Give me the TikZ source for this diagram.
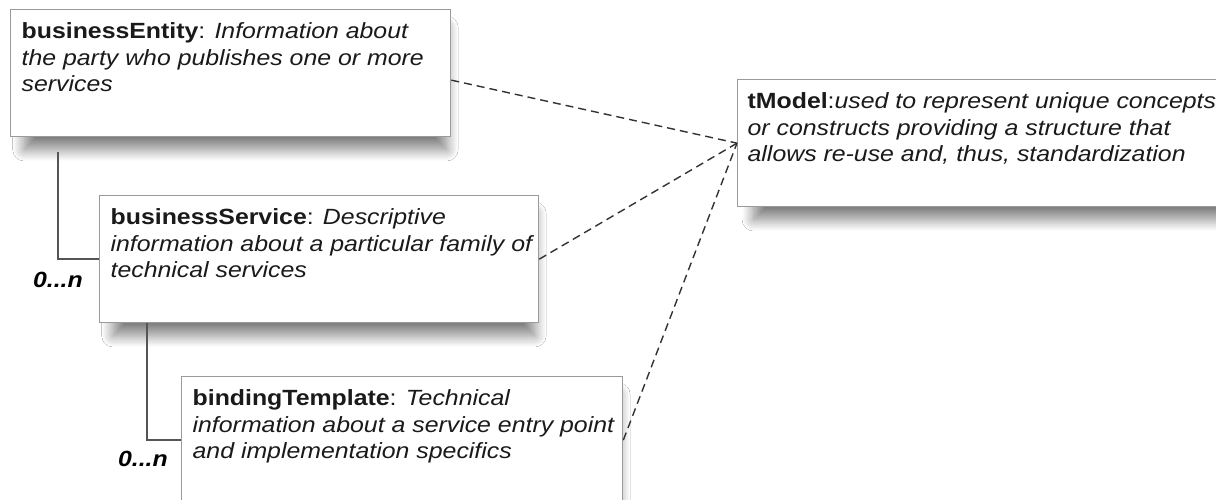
\documentclass[tikz,border=0pt]{standalone}
\usepackage{fontspec}
\setmainfont[FakeStretch=1.13]{Liberation Sans}
\usetikzlibrary{shadows.blur}
\definecolor{boxline}{HTML}{9A9A9A}
\definecolor{conncol}{HTML}{555555}
\definecolor{dashcol}{HTML}{333333}
\definecolor{txtcol}{HTML}{1A1A1A}
\newcommand{\boxtext}[4]{\parbox[t][127pt][t]{#1}{\fontsize{22}{26.5}\selectfont\color{txtcol}\rule{0pt}{29pt}\mbox{#2}\\\mbox{#3}\\\mbox{#4}}}
\tikzset{
  umlbox/.style={draw=boxline, line width=1.3pt, fill=white, inner xsep=11pt, inner ysep=0pt, anchor=north west,
    blur shadow={shadow xshift=5pt, shadow yshift=-16pt, shadow scale=0.96, shadow blur radius=12pt, shadow blur steps=20, shadow opacity=50}},
  conn/.style={draw=conncol, line width=1.7pt},
  dashconn/.style={draw=dashcol, line width=1.4pt, dash pattern=on 8pt off 5pt},
  mult/.style={font=\fontsize{22}{26}\selectfont\bfseries\itshape, text=black, inner sep=0pt, anchor=base east}
}
\begin{document}
\begin{tikzpicture}[x=1pt,y=-1pt]
\useasboundingbox (0,0) rectangle (1216,500);
\fill[white] (0,0) rectangle (1216,500);

\node[umlbox] (be) at (10,9) {\boxtext{418pt}{\textbf{businessEntity}: \textit{Information about}}{\textit{the party who publishes one or more}}{\textit{services}}};
\node[umlbox] (bs) at (99,195) {\boxtext{417pt}{\textbf{businessService}: \textit{Descriptive}}{\textit{information about a particular family of}}{\textit{technical services}}};
\node[umlbox] (bt) at (181,376) {\boxtext{419pt}{\textbf{bindingTemplate}: \textit{Technical}}{\textit{information about a service entry point}}{\textit{and implementation specifics}}};
\node[umlbox, inner xsep=10pt] (tm) at (737,79) {\boxtext{540pt}{\textbf{tModel}:\textit{used to represent unique concepts}}{\textit{or constructs providing a structure that}}{\textit{allows re-use and, thus, standardization}}};

\draw[conn] ([xshift=48pt,yshift=-15pt]be.south west) |- (bs.west);
\draw[conn] ([xshift=48pt]bs.south west) |- (bt.west);

\node[mult] (m1) at ([xshift=-16pt,yshift=-92pt]bs.north west) {0...n};
\node[mult] (m2) at ([xshift=-13pt,yshift=-90pt]bt.north west) {0...n};

\draw[dashconn] ([yshift=-7pt]be.east) -- (tm.west);
\draw[dashconn] (bs.east) -- (tm.west);
\draw[dashconn] (bt.east) -- (tm.west);
\end{tikzpicture}
\end{document}
